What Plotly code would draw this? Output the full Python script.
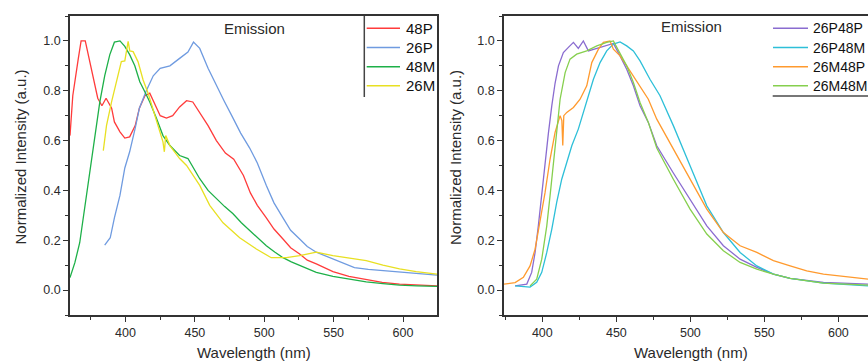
import plotly.graph_objects as go

# ---------------- data ----------------
# Left panel
p48_x = [360, 362, 366, 368, 371, 374, 377, 380, 383, 386, 390, 392, 396, 399.5, 403, 407, 410, 414, 417.5, 421,
         425, 429.5, 434, 439, 444, 448.5, 453.5, 459.5, 465.5, 472, 478, 485, 490, 495, 501.5, 507, 513.5, 519,
         525.5, 531, 537.5, 549.5, 561, 573.5, 585, 597.5, 610, 624.5]
p48_y = [0.62, 0.78, 0.93, 1.0, 1.0, 0.92, 0.84, 0.77, 0.74, 0.77, 0.73, 0.675, 0.635, 0.61, 0.615, 0.66, 0.73, 0.78,
         0.79, 0.745, 0.70, 0.69, 0.70, 0.735, 0.76, 0.755, 0.71, 0.66, 0.60, 0.55, 0.525, 0.46, 0.39, 0.34, 0.29,
         0.245, 0.205, 0.17, 0.145, 0.12, 0.105, 0.074, 0.055, 0.041, 0.031, 0.024, 0.02, 0.017]

p26_x = [385, 389, 392, 396, 399.5, 403, 407, 410, 415, 420, 425, 432, 439, 445, 449, 453.5, 459.5, 465.5, 471, 477.5,
         483, 489.5, 495, 501.5, 507, 513.5, 519, 525.5, 531, 537.5, 549.5, 557, 565, 575, 585.5, 597, 609.5, 624.5]
p26_y = [0.18, 0.21, 0.29, 0.38, 0.49, 0.555, 0.65, 0.73, 0.80, 0.86, 0.89, 0.90, 0.93, 0.955, 0.995, 0.97, 0.89, 0.82,
         0.76, 0.69, 0.63, 0.57, 0.51, 0.42, 0.35, 0.29, 0.24, 0.205, 0.175, 0.152, 0.125, 0.105, 0.09, 0.083, 0.078,
         0.072, 0.067, 0.06]

m48_x = [360, 363.5, 367, 369.5, 372, 374.5, 378, 381.5, 385, 388.7, 392, 396, 399.5, 403, 406.7, 410.3, 414, 417.5,
         422.3, 427, 432, 439, 445, 451, 453.5, 459.5, 465.5, 471.5, 477.5, 483.5, 489.5, 495.5, 501.5, 507.5, 513.5,
         519.5, 525.5, 537.5, 549.5, 561.5, 573.5, 585.5, 597.5, 610, 624.5]
m48_y = [0.05, 0.11, 0.19, 0.29, 0.38, 0.47, 0.62, 0.755, 0.86, 0.945, 0.995, 1.0, 0.978, 0.945, 0.9, 0.836, 0.795,
         0.755, 0.69, 0.62, 0.58, 0.54, 0.528, 0.474, 0.447, 0.40, 0.366, 0.335, 0.306, 0.27, 0.239, 0.208, 0.178,
         0.153, 0.13, 0.113, 0.098, 0.071, 0.055, 0.043, 0.033, 0.026, 0.02, 0.017, 0.015]

m26_x = [384, 386.3, 390, 393.5, 397, 399.5, 401.9, 403.1, 405.5, 409, 412.7, 416.3, 420, 423.5, 427, 428, 429, 432,
         439, 444, 448.7, 453.5, 460.7, 470.3, 482.3, 494.3, 505, 516, 525.5, 537.5, 549.5, 561.5, 573.5, 585.5,
         597.5, 609.5, 624.5]
m26_y = [0.56, 0.66, 0.756, 0.836, 0.917, 0.92, 0.998, 0.96, 0.957, 0.917, 0.843, 0.79, 0.72, 0.66, 0.595, 0.555, 0.62,
         0.58, 0.528, 0.50, 0.46, 0.42, 0.34, 0.27, 0.21, 0.165, 0.13, 0.13, 0.138, 0.152, 0.138, 0.128, 0.118, 0.10,
         0.085, 0.074, 0.064]

# Right panel
p26p48_x = [381.6, 389.5, 392.8, 395.1, 397.3, 399.6, 401.8, 404.1, 406.4, 408.6, 410.9, 414.2, 417.6, 421, 424.3,
            427.7, 431.1, 436.8, 443.5, 448, 452.5, 457, 461.5, 466, 471.6, 477.3, 488.5, 499.8, 511.1, 522.3, 533.6,
            544.9, 556.1, 567.4, 589.9, 620]
p26p48_y = [0.017, 0.024, 0.071, 0.151, 0.258, 0.39, 0.51, 0.63, 0.74, 0.83, 0.90, 0.953, 0.974, 0.994, 0.97, 1.0,
            0.96, 0.97, 0.98, 0.99, 0.94, 0.886, 0.82, 0.74, 0.673, 0.579, 0.47, 0.365, 0.258, 0.178, 0.124, 0.091,
            0.064, 0.047, 0.031, 0.024]

p26m48_x = [381.6, 391.7, 396.2, 399.6, 403, 406.4, 409.7, 413.1, 416.5, 419.9, 424.3, 427.7, 431.1, 434.5, 439,
            443.5, 448, 452.5, 457, 461.5, 466, 472.7, 479.5, 488.5, 499.8, 511.1, 522.3, 533.6, 544.9, 556.1, 567.4,
            589.9, 620]
p26m48_y = [0.017, 0.012, 0.031, 0.071, 0.151, 0.245, 0.352, 0.445, 0.512, 0.579, 0.646, 0.713, 0.78, 0.846, 0.913,
            0.96, 0.987, 0.996, 0.98, 0.96, 0.92, 0.846, 0.78, 0.66, 0.499, 0.338, 0.231, 0.151, 0.097, 0.064, 0.047,
            0.028, 0.017]

m26p48_x = [374.1, 381.6, 387.2, 391.7, 395.1, 398.5, 401.8, 405.2, 408.6, 412, 413.2, 413.8, 414.5, 416.5, 421,
            425.5, 430, 433.4, 437.9, 441.2, 445.7, 448, 452.5, 457, 461.5, 466, 471.6, 477.3, 488.5, 499.8, 511.1,
            522.3, 533.6, 544.9, 556.1, 567.4, 578.6, 589.9, 601.2, 620]
m26p48_y = [0.024, 0.03, 0.051, 0.097, 0.164, 0.271, 0.39, 0.525, 0.633, 0.70, 0.68, 0.58, 0.70, 0.713, 0.733, 0.766,
            0.82, 0.913, 0.967, 0.994, 1.0, 0.967, 0.94, 0.9, 0.86, 0.82, 0.766, 0.686, 0.566, 0.445, 0.325, 0.231,
            0.178, 0.151, 0.118, 0.097, 0.077, 0.064, 0.057, 0.044]

m26m48_x = [391.7, 396.2, 399.6, 403, 405.2, 407.4, 409.7, 412, 415.4, 418.7, 423.2, 430, 436.8, 443.5, 448, 452.5,
            457, 461.5, 466, 471.6, 477.3, 488.5, 499.8, 511.1, 522.3, 533.6, 544.9, 556.1, 567.4, 589.9, 620]
m26m48_y = [0.017, 0.044, 0.124, 0.258, 0.378, 0.51, 0.646, 0.766, 0.873, 0.927, 0.947, 0.96, 0.98, 0.994, 1.0, 0.953,
            0.9, 0.833, 0.753, 0.673, 0.57, 0.445, 0.325, 0.225, 0.158, 0.111, 0.084, 0.064, 0.047, 0.028, 0.02]

left_series = [("48P", p48_x, p48_y, "#FF3B3B"),
               ("26P", p26_x, p26_y, "#6F9BE0"),
               ("48M", m48_x, m48_y, "#1DB048"),
               ("26M", m26_x, m26_y, "#E8E022")]
right_series = [("26P48P", p26p48_x, p26p48_y, "#8A6CD0"),
                ("26P48M", p26m48_x, p26m48_y, "#2DBFD8"),
                ("26M48P", m26p48_x, m26p48_y, "#FF9A2E"),
                ("26M48M", m26m48_x, m26m48_y, "#86CF4E")]

x_ticks = [400, 450, 500, 550, 600]
y_ticks = [0.0, 0.2, 0.4, 0.6, 0.8, 1.0]

FONT = "Liberation Sans, Arial, sans-serif"
TXT = "#2a2a2a"
W, H = 868, 361
L, R, T, B = 70, 0, 16, 46
PW, PH = W - L - R, H - T - B


def px(xp):
    return (xp - L) / PW


def py(yp):
    return (H - B - yp) / PH


fig = go.Figure()
for name, xs, ys, c in left_series:
    fig.add_trace(go.Scatter(x=xs, y=ys, mode="lines", name=name, line=dict(color=c, width=1.3),
                             xaxis="x", yaxis="y", showlegend=False))
for name, xs, ys, c in right_series:
    fig.add_trace(go.Scatter(x=xs, y=ys, mode="lines", name=name, line=dict(color=c, width=1.3),
                             xaxis="x2", yaxis="y2", showlegend=False))

axis_common = dict(showline=True, linecolor="#333", linewidth=1.5, ticks="outside", ticklen=5, tickwidth=1.2,
                   tickcolor="#333", showgrid=False, zeroline=False,
                   tickfont=dict(family=FONT, size=12.5, color=TXT))

fig.update_layout(
    width=W, height=H,
    margin=dict(l=L, r=R, t=T, b=B, autoexpand=False),
    paper_bgcolor="white", plot_bgcolor="white",
    showlegend=False,
    xaxis=dict(domain=[0, px(437)], range=[360, 624.5], tickvals=x_ticks, mirror=True,
               minor=dict(dtick=25, tick0=375, ticks="outside", ticklen=3, tickcolor="#333"), **axis_common),
    yaxis=dict(domain=[0, 1], range=[-0.1, 1.1], tickvals=y_ticks, tickformat=".1f", mirror=True,
               minor=dict(dtick=0.1, tick0=-0.1, ticks="outside", ticklen=3, tickcolor="#333"), **axis_common),
    xaxis2=dict(domain=[px(504), 1], range=[374.1, 620], tickvals=x_ticks, mirror=True, anchor="y2",
                minor=dict(dtick=25, tick0=375, ticks="outside", ticklen=3, tickcolor="#333"), **axis_common),
    yaxis2=dict(domain=[0, 1], range=[-0.1, 1.1], tickvals=y_ticks, tickformat=".1f", anchor="x2",
                minor=dict(dtick=0.1, tick0=-0.1, ticks="outside", ticklen=3, tickcolor="#333"), **axis_common),
)

# ---------- legends drawn as key lines + labels ----------
row_y = [28.3, 47.5, 66.7, 85.8]


def add_key(series, x_line0, x_line1, x_text, size):
    for (name, _, _, c), yy in zip(series, row_y):
        fig.add_shape(type="line", xref="paper", yref="paper", x0=px(x_line0), x1=px(x_line1),
                      y0=py(yy), y1=py(yy), line=dict(color=c, width=1.6))
        fig.add_annotation(text=name, xref="paper", yref="paper", x=px(x_text), y=py(yy), showarrow=False,
                           xanchor="left", yanchor="middle", font=dict(family=FONT, size=size, color="#111"))


add_key(left_series, 366.7, 400, 404, 15)
add_key(right_series, 773, 808, 811, 14)

# legend frame pieces visible in the reference
fig.add_shape(type="line", xref="paper", yref="paper", x0=px(364.3), x1=px(364.3), y0=1, y1=py(97),
              line=dict(color="#444", width=1.5))
fig.add_shape(type="line", xref="paper", yref="paper", x0=px(772.7), x1=1.0, y0=py(96), y1=py(96),
              line=dict(color="#777", width=2))

ann_font = dict(family=FONT, size=15, color=TXT)
fig.add_annotation(text="Emission", xref="paper", yref="paper", x=px(254), y=py(29), showarrow=False,
                   font=ann_font, xanchor="center", yanchor="middle")
fig.add_annotation(text="Emission", xref="paper", yref="paper", x=px(691), y=py(27), showarrow=False,
                   font=ann_font, xanchor="center", yanchor="middle")
fig.add_annotation(text="Normalized Intensity (a.u.)", xref="paper", yref="paper", x=px(20), y=py(157.5),
                   showarrow=False, textangle=-90, font=ann_font, xanchor="center", yanchor="middle")
fig.add_annotation(text="Normalized Intensity (a.u.)", xref="paper", yref="paper", x=px(455), y=py(158),
                   showarrow=False, textangle=-90, font=ann_font, xanchor="center", yanchor="middle")
fig.add_annotation(text="Wavelength (nm)", xref="paper", yref="paper", x=px(253.5), y=py(352),
                   showarrow=False, font=ann_font, xanchor="center", yanchor="middle")
fig.add_annotation(text="Wavelength (nm)", xref="paper", yref="paper", x=px(691), y=py(352),
                   showarrow=False, font=ann_font, xanchor="center", yanchor="middle")

fig.write_html("out.html", config={"displayModeBar": False},
               post_script="document.body.style.margin='0px';document.body.style.overflow='hidden';")
